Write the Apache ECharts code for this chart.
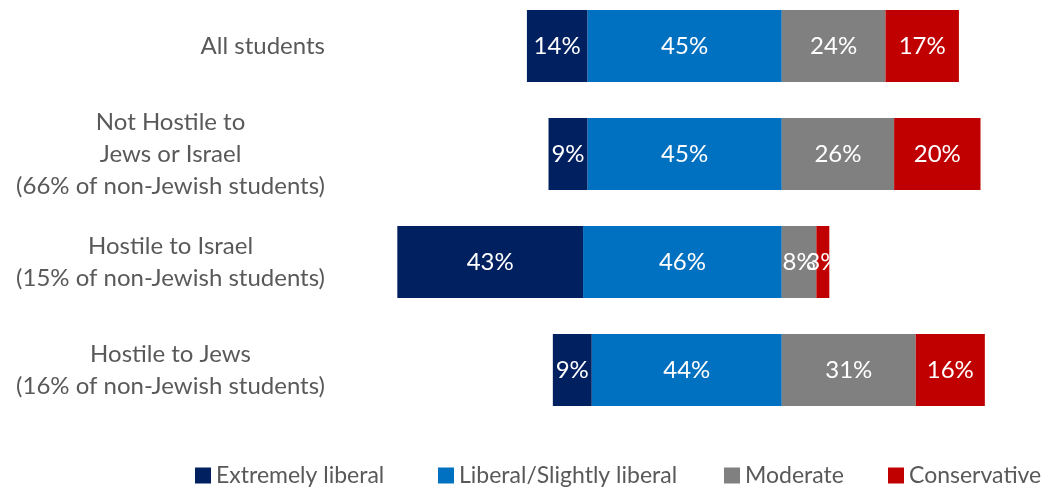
<!DOCTYPE html>
<html>
<head>
<meta charset="utf-8">
<script src="https://cdn.jsdelivr.net/npm/echarts@6/dist/echarts.min.js"></script>
<style>
  html, body { margin: 0; padding: 0; background: #fff; overflow: hidden; }
  /* the plot starts slightly above the window edge, so the canvas is lifted a little */
  #chart { width: 1054px; height: 500px; margin-top: -8px; }
</style>
</head>
<body>
<div id="chart"></div>
<script>
// Political identification of students, split left (liberal) / right (moderate, conservative)
const categories = [
  'All students',
  'Not Hostile to\nJews or Israel\n(66% of non-Jewish students)',
  'Hostile to Israel\n(15% of non-Jewish students)',
  'Hostile to Jews\n(16% of non-Jewish students)'
];
const extremelyLiberal = [14, 9, 43, 9];
const liberal = [45, 45, 46, 44];
const moderate = [24, 26, 8, 31];
const conservative = [17, 20, 3, 16];

const seriesNames = ['Extremely liberal', 'Liberal/Slightly liberal', 'Moderate', 'Conservative'];
const colors = ['#002060', '#0070C0', '#808080', '#C00000'];
const legendLeft = [195, 438, 724, 888];

const FONT = 'Lato, "Open Sans", sans-serif';
const TEXT_GREY = '#595959';

const chart = echarts.init(document.getElementById('chart'));

const valueLabel = {
  show: true,
  position: 'inside',
  color: '#fff',
  fontFamily: FONT,
  fontSize: 24,
  formatter: p => Math.abs(p.value) + '%'
};

function barSeries(name, values, color, sign) {
  return {
    name: name,
    type: 'bar',
    stack: 'total',
    data: values.map(v => sign * v),
    itemStyle: { color: color },
    barWidth: 72,
    label: valueLabel,
    emphasis: { disabled: true }
  };
}

// one legend entry per block so each sits at its own spot on the bottom row
const legends = seriesNames.map((name, i) => ({
  data: [name],
  top: 472,
  left: legendLeft[i],
  padding: 0,
  itemWidth: 16,
  itemHeight: 16,
  icon: 'rect',
  textStyle: { color: TEXT_GREY, fontSize: 23, fontFamily: FONT }
}));

chart.setOption({
  animation: false,
  textStyle: { fontFamily: FONT },
  grid: { left: 393, width: 648, top: 0, height: 432 },
  legend: legends,
  xAxis: {
    type: 'value',
    min: -90,
    max: 60,
    show: false
  },
  yAxis: {
    type: 'category',
    data: categories,
    inverse: true,
    axisLine: { show: false },
    axisTick: { show: false },
    splitLine: { show: false },
    axisLabel: {
      margin: 68,
      align: 'right',
      color: TEXT_GREY,
      fontSize: 24,
      fontFamily: FONT,
      lineHeight: 32,
      formatter: v => v.split('\n').map(l => '{c|' + l + '}').join('\n'),
      rich: {
        c: { align: 'center', fontSize: 24, lineHeight: 32, color: TEXT_GREY, fontFamily: FONT }
      }
    }
  },
  series: [
    barSeries(seriesNames[1], liberal, colors[1], -1),
    barSeries(seriesNames[0], extremelyLiberal, colors[0], -1),
    barSeries(seriesNames[2], moderate, colors[2], 1),
    barSeries(seriesNames[3], conservative, colors[3], 1)
  ]
});
</script>
</body>
</html>
